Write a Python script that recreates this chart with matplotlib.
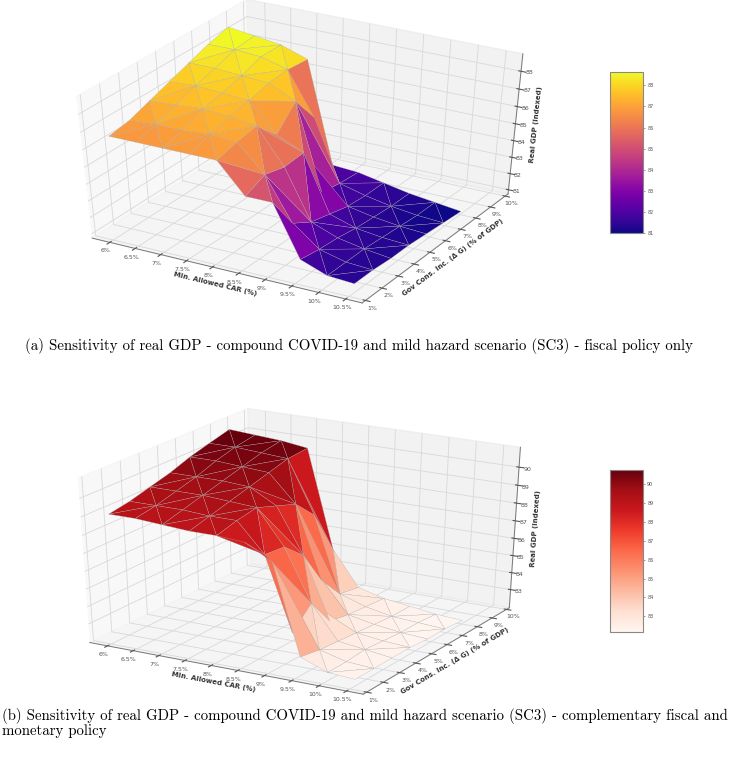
import matplotlib
matplotlib.use('Agg')
import matplotlib.pyplot as plt
import numpy as np

car = [6, 6.5, 7, 7.5, 8, 8.5, 9, 9.5, 10, 10.5]
gov = [1.3, 2.42, 3.53, 4.65, 5.77, 6.88, 8.05]
car_labels = ['6%', '6.5%', '7%', '7.5%', '8%', '8.5%', '9%', '9.5%', '10%', '10.5%']
gov_ticks = [1, 2, 3, 4, 5, 6, 7, 8, 9, 10]
gov_labels = ['1%', '2%', '3%', '4%', '5%', '6%', '7%', '8%', '9%', '10%']

# rows follow gov, columns follow car
gdp_fiscal = [
    [86.7, 86.7, 86.7, 86.7, 86.7, 85.0, 85.0, 82.0, 81.4, 81.3],
    [86.9, 87.0, 87.0, 87.1, 87.0, 85.5, 83.0, 81.8, 81.4, 81.3],
    [87.3, 87.4, 87.5, 87.4, 87.2, 85.2, 82.3, 81.7, 81.4, 81.2],
    [87.7, 87.8, 87.7, 87.6, 86.0, 85.3, 82.0, 81.5, 81.3, 81.2],
    [88.1, 88.1, 88.0, 87.9, 87.2, 82.2, 81.7, 81.4, 81.2, 81.1],
    [88.5, 88.5, 88.4, 88.0, 85.6, 82.0, 81.6, 81.3, 81.1, 81.0],
    [88.8, 88.6, 88.4, 87.9, 82.0, 81.9, 81.6, 81.3, 81.1, 80.9],
]
gdp_both = [
    [89.1, 89.1, 89.0, 88.9, 88.9, 88.8, 88.0, 83.0, 82.4, 82.3],
    [89.3, 89.3, 89.3, 89.2, 89.2, 87.6, 83.5, 82.8, 82.4, 82.3],
    [89.6, 89.6, 89.6, 89.5, 89.4, 87.5, 84.6, 82.7, 82.5, 82.3],
    [89.9, 89.9, 89.9, 89.8, 89.0, 86.5, 83.0, 82.6, 82.4, 82.3],
    [90.3, 90.3, 90.2, 90.1, 88.6, 84.5, 82.8, 82.5, 82.3, 82.2],
    [90.6, 90.6, 90.5, 90.4, 87.5, 83.2, 82.7, 82.4, 82.3, 82.2],
    [90.9, 90.8, 90.7, 90.5, 85.0, 83.0, 82.6, 82.4, 82.2, 82.1],
]
z_ticks_fiscal = [81, 82, 83, 84, 85, 86, 87, 88]
z_ticks_both = [83, 84, 85, 86, 87, 88, 89, 90]

caption_a = '(a) Sensitivity of real GDP - compound COVID-19 and mild hazard scenario (SC3) - fiscal policy only'
caption_b1 = '(b) Sensitivity of real GDP - compound COVID-19 and mild hazard scenario (SC3) - complementary fiscal and'
caption_b2 = 'monetary policy'

W, H = 731, 771
fig = plt.figure(figsize=(W / 100, H / 100), dpi=100)


def rect(x0, y0, x1, y1):
    return [x0 / W, 1 - y1 / H, (x1 - x0) / W, (y1 - y0) / H]


def mesh_triangles(n_rows, n_cols):
    # flip the diagonal cell by cell, the reference mesh has these diamonds
    tris = []
    for r in range(n_rows - 1):
        for c in range(n_cols - 1):
            a = r * n_cols + c
            b = a + 1
            d = a + n_cols
            e = d + 1
            if (r + c) % 2 == 0:
                tris += [[a, b, e], [a, e, d]]
            else:
                tris += [[a, b, d], [b, e, d]]
    return tris


def panel(values, cmap, z_ticks, ax_rect, cbar_rect, elev):
    ax = fig.add_axes(rect(*ax_rect), projection='3d')
    # the original panel is a stretched cube, so keep the whole rectangle
    ax.apply_aspect = lambda position=None: None
    ax.set_box_aspect((1, 1, 1))
    ax.patch.set_alpha(0)
    ax.view_init(elev=elev, azim=-60)
    xx, yy = np.meshgrid(car, gov)
    surf = ax.plot_trisurf(xx.ravel(), yy.ravel(), np.array(values).ravel(),
                           triangles=mesh_triangles(len(gov), len(car)), cmap=cmap,
                           linewidth=0.2, edgecolor='#aaaaaa', antialiased=True)
    ax.set_xlim(5.65, 10.8)
    ax.set_ylim(0.8, 10.2)
    ax.set_xticks(car)
    ax.set_xticklabels(car_labels)
    ax.set_yticks(gov_ticks)
    ax.set_yticklabels(gov_labels)
    ax.set_zticks(z_ticks)
    ax.tick_params(labelsize=4.5, colors='#555555', pad=-4)
    ax.tick_params(axis='z', pad=-5)
    ax.set_xlabel('Min. Allowed CAR (%)', fontsize=5, fontweight='bold', color='#333333', labelpad=-12)
    ax.set_ylabel('Gov Cons. Inc. (Δ G) (% of GDP)', fontsize=5, fontweight='bold', color='#333333', labelpad=-12)
    ax.set_zlabel('Real GDP (Indexed)', fontsize=5, fontweight='bold', color='#333333', labelpad=-13)
    for axis in (ax.xaxis, ax.yaxis, ax.zaxis):
        axis._axinfo['grid']['color'] = '#d8d8d8'
        axis._axinfo['grid']['linewidth'] = 0.6
        axis.line.set_color('#777777')
        axis.line.set_linewidth(0.7)
    cax = fig.add_axes(rect(*cbar_rect))
    cb = fig.colorbar(surf, cax=cax)
    cb.set_ticks(z_ticks)
    cb.ax.tick_params(labelsize=3.5, colors='#555555', length=1.5, width=0.4, pad=1.5)
    cb.outline.set_edgecolor('#888888')
    cb.outline.set_linewidth(0.8)
    return ax


panel(gdp_fiscal, 'plasma', z_ticks_fiscal, (31, -3, 561, 307), (610, 72, 643, 233), 40.3)
panel(gdp_both, 'Reds', z_ticks_both, (31, 394, 561, 706), (610, 470, 643, 632), 29)

serif = ['cmr10', 'DejaVu Serif']
plt.rcParams['axes.formatter.use_mathtext'] = True
fig.text(25 / W, 1 - 346 / H, caption_a, fontsize=10.7, family=serif, va='center')
fig.text(2 / W, 1 - 716 / H, caption_b1, fontsize=10.7, family=serif, va='center')
fig.text(2 / W, 1 - 731 / H, caption_b2, fontsize=10.7, family=serif, va='center')

fig.savefig('out.png', dpi=100)
